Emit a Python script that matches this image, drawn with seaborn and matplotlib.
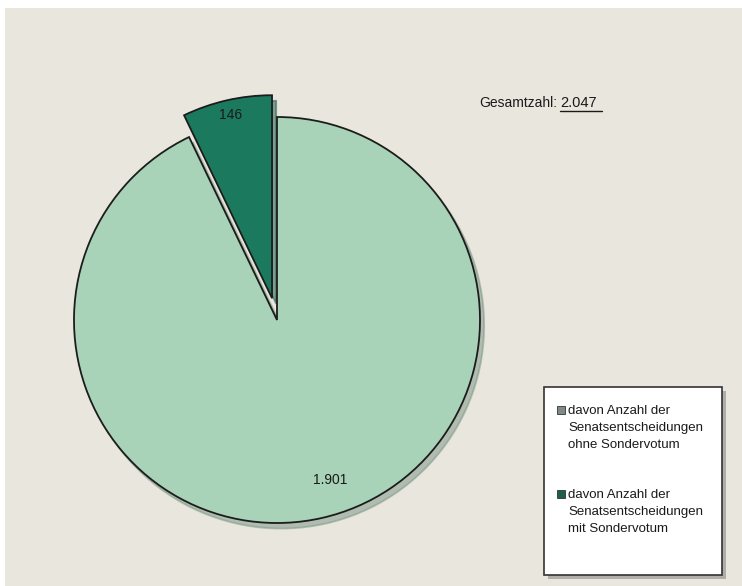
import matplotlib
matplotlib.use("Agg")
import matplotlib.pyplot as plt
import seaborn as sns
import numpy as np
from matplotlib.patches import Rectangle

sns.set_theme(style="white")
plt.rcParams['font.family'] = ['Liberation Sans', 'DejaVu Sans']

# data
categories = ["davon Anzahl der\nSenatsentscheidungen\nohne Sondervotum",
              "davon Anzahl der\nSenatsentscheidungen\nmit Sondervotum"]
values = [1901, 146]
value_labels = ["1.901", "146"]
total_label = "2.047"
pie_colors = ["#A8D3B8", "#1B7A5E"]
legend_colors = ["#7F8A84", "#1E5E4A"]

W, H = 742, 586
fig = plt.figure(figsize=(W / 100, H / 100), dpi=100)
fig.patch.set_facecolor("white")
ax = fig.add_axes([0, 0, 1, 1])


def Y(p):
    return H - p


# beige panel
ax.add_patch(Rectangle((5, 0), W - 5, H - 8, facecolor="#E9E6DE", edgecolor="none", zorder=0))

cx, cy, R = 277, Y(320), 203
wedges, _ = ax.pie(values, colors=pie_colors, startangle=90, counterclock=False,
                   explode=[0, 0.11 * R], radius=R, center=(cx, cy),
                   wedgeprops=dict(edgecolor="#1c1c1c", linewidth=1.3),
                   frame=True, shadow=dict(ox=3, oy=-4, shade=0.3))
ax.set_xlim(0, W)
ax.set_ylim(0, H)
ax.set_aspect("equal")
ax.set_axis_off()

# value labels placed inside wedges
dists = [0.83, 0.925]
angle_shift = [5.4, 0]
for w, lab, d, s in zip(wedges, value_labels, dists, angle_shift):
    ang = np.deg2rad((w.theta1 + w.theta2) / 2 + s)
    x = w.center[0] + d * w.r * np.cos(ang)
    y = w.center[1] + d * w.r * np.sin(ang)
    ax.text(x, y, lab, ha="center", va="center", fontsize=10, color="#1a1a1a", zorder=5)

# total
ax.text(557, Y(103), "Gesamtzahl:", ha="right", va="center", fontsize=10, color="#1a1a1a")
ax.text(560, Y(103), total_label, ha="left", va="center", fontsize=10.5, color="#1a1a1a")
ax.plot([560, 602], [Y(111), Y(111)], color="#1a1a1a", lw=1)

# legend box (manual)
lx0, ly0, lx1, ly1 = 544, 387, 722, 575
ax.add_patch(Rectangle((lx0 + 4, Y(ly1 + 4)), lx1 - lx0, ly1 - ly0, facecolor="#8a8a86",
                       edgecolor="none", alpha=0.6, zorder=6))
ax.add_patch(Rectangle((lx0, Y(ly1)), lx1 - lx0, ly1 - ly0, facecolor="white",
                       edgecolor="#333333", lw=1.2, zorder=7))
entry_y = [410, 494]
for col, lab, ey in zip(legend_colors, categories, entry_y):
    ax.add_patch(Rectangle((557, Y(ey + 4)), 8, 8, facecolor=col, edgecolor="#333333", lw=0.6, zorder=8))
    ax.text(568, Y(ey - 5), lab, ha="left", va="top", fontsize=9.5, color="#1a1a1a",
            linespacing=1.55, zorder=8)

fig.savefig("out.png", dpi=100)
